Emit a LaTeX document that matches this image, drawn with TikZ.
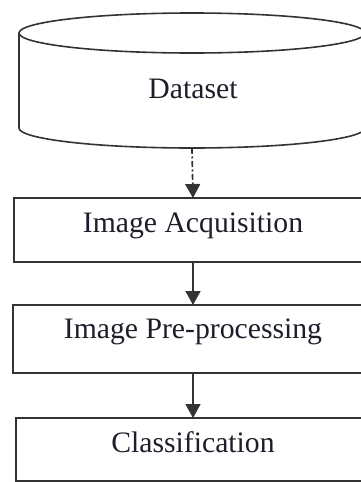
\documentclass[tikz,border=0pt]{standalone}
\usepackage{fontspec}
\setmainfont{Liberation Serif}
\usetikzlibrary{arrows.meta}
\definecolor{ink}{HTML}{333333}
\definecolor{txt}{HTML}{1E1E2A}
\begin{document}
\begin{tikzpicture}[x=1pt,y=-1pt,
  lbl/.style={text=txt,font=\fontsize{29.7}{34}\selectfont},
  stagebox/.style={draw=ink,line width=1.8pt,inner sep=0pt,outer sep=0pt,lbl,text height=20pt},
  arr/.style={draw=ink,line width=1.7pt,-{Triangle[width=15pt,length=14pt]}},
  dashdot/.style={dash pattern=on 6pt off 2.5pt on 2pt off 2.5pt}]
\useasboundingbox (0,0) rectangle (361,482);
\clip (0,0) rectangle (361,482);
% cylinder outline
\coordinate (cyltl) at (19,33);
\coordinate (cylbl) at (19,128);
\coordinate (cylbr) at (365,128);
\coordinate (cyltr) at (365,33);
\draw[ink,line width=1.6pt] (cyltl) -- (cylbl) arc[start angle=180,end angle=360,x radius=173pt,y radius=20pt] -- (cyltr);
\draw[ink,line width=1.6pt] (192,33) ellipse[x radius=173pt,y radius=20pt];
\coordinate (dsb) at (192,148);
\node[lbl,anchor=base] (dataset) at (193,98) {Dataset};
% stages
\node[stagebox,minimum width=358pt,minimum height=64pt,text depth=16pt] (acq) at (193,230) {Image Acquisition};
\node[stagebox,minimum width=360pt,minimum height=68pt,text depth=22pt] (pre) at (193,339) {Image Pre-processing};
\node[stagebox,minimum width=354pt,minimum height=63pt,text depth=15pt] (cls) at (193,449.5) {Classification};
% connectors
\draw[arr,dashdot] (dsb) -- (acq.north);
\draw[arr] (acq.south) -- (pre.north);
\draw[arr] (pre.south) -- (cls.north);
\end{tikzpicture}
\end{document}
